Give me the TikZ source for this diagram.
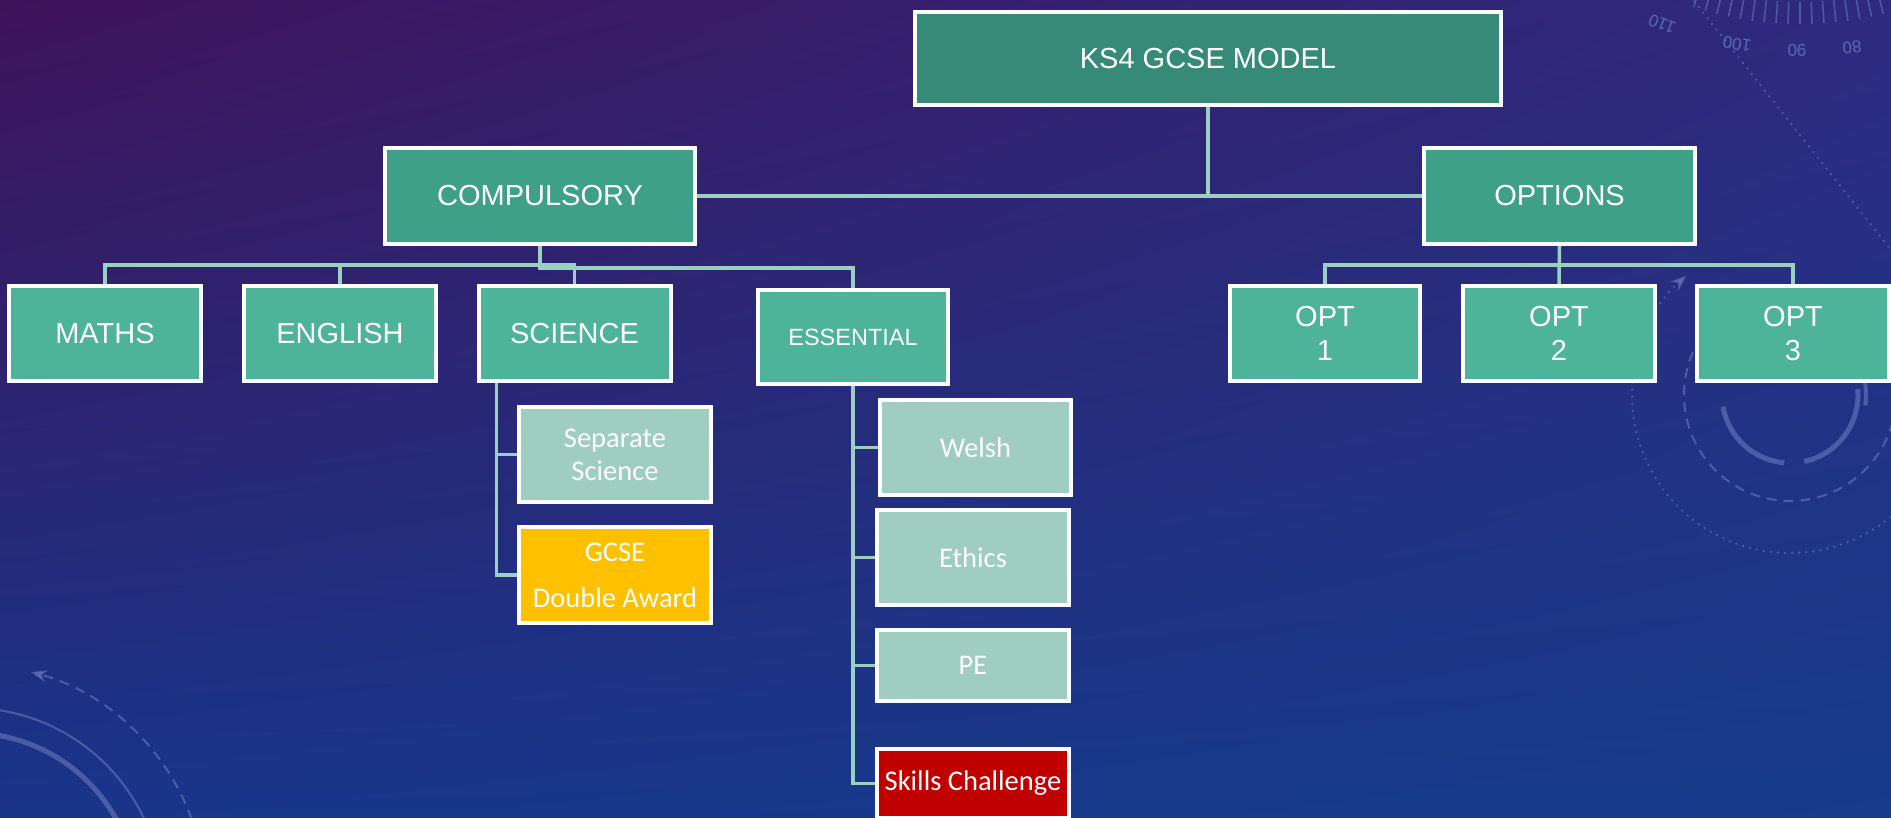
\documentclass[tikz,border=0pt]{standalone}
\usepackage{fontspec}
\setmainfont{Liberation Sans}
\newfontfamily\calibri{Carlito}
\usepackage{xcolor}
\usetikzlibrary{arrows.meta}
\usetikzlibrary{shadings}
\definecolor{modelteal}{HTML}{368B78}
\definecolor{groupteal}{HTML}{3FA088}
\definecolor{subjteal}{HTML}{4DB399}
\definecolor{paleteal}{HTML}{9FCDBF}
\definecolor{linkteal}{HTML}{9BD0C1}
\definecolor{gold}{HTML}{FFC000}
\definecolor{darkred}{HTML}{C00000}
\definecolor{bgtl}{HTML}{3F135A}
\definecolor{bgtr}{HTML}{2E2A80}
\definecolor{bgbl}{HTML}{18358A}
\definecolor{bgbr}{HTML}{163C8A}
\definecolor{decoblue}{HTML}{6A78C0}
\tikzset{ box/.style = {rectangle, draw=white, line width=4pt, text=white, align=center, inner sep=0pt} }
\tikzset{ arial/.style = {font=\fontsize{29}{34}\selectfont} }
\tikzset{ cal/.style = {font=\calibri\fontsize{28.5}{33}\selectfont} }
\tikzset{ link/.style = {draw=linkteal, line width=3.5pt} }
\tikzset{ deco/.style = {draw=decoblue, opacity=0.6} }
\tikzset{ dial/.style = {text=decoblue, opacity=0.8, inner sep=0pt, font=\fontsize{17}{17}\selectfont} }
\pgfdeclarelayer{back}
\pgfdeclarelayer{wires}
\pgfsetlayers{back,wires,main}

\begin{document}
\begin{tikzpicture}[x=1pt,y=-1pt]
    \useasboundingbox (0,0) rectangle (1891,818);
    \begin{pgfonlayer}{back}
        \shade[upper left=bgtl, upper right=bgtr, lower left=bgbl, lower right=bgbr] (0,0) rectangle (1891,818);
        \clip (0,0) rectangle (1891,818);
        \draw[deco, line width=5pt] (-30,900) circle (167pt);
        \draw[deco, line width=2pt] (-30,900) circle (192pt);
        \draw[deco, line width=2pt, dash pattern=on 10pt off 7pt, -{Stealth[length=16pt,width=12pt]}] ([shift={(20:236pt)}]-30,900) arc[start angle=20, end angle=75, radius=236pt];
        \draw[deco, line width=5pt] ([shift={(190:68pt)}]1790,395) arc[start angle=190, end angle=265, radius=68pt];
        \draw[deco, line width=5pt] ([shift={(282:68pt)}]1790,395) arc[start angle=282, end angle=365, radius=68pt];
        \draw[deco, line width=4pt] ([shift={(-8:76pt)}]1790,395) arc[start angle=-8, end angle=10, radius=76pt];
        \draw[deco, line width=2pt, dash pattern=on 10pt off 7pt] (1790,395) circle (106pt);
        \draw[deco, line width=2.5pt, line cap=round, dash pattern=on 0.1pt off 7pt, -{Stealth[length=16pt,width=12pt]}] ([shift={(-30:158pt)}]1790,395) arc[start angle=-30, end angle=-229, radius=158pt];
        \draw[deco, line width=2.5pt, line cap=round, dash pattern=on 0.1pt off 7pt] (1690,-4) -- (1891,250);
        \foreach \a in {-108,-106,...,-76}
            \draw[deco, line width=1.5pt] ([shift={(\a:322pt)}]1800,-320) -- ([shift={(\a:344pt)}]1800,-320);
        \node[dial, rotate=158] (d110) at (1662,24) {110};
        \node[dial, rotate=170] (d100) at (1737,44) {100};
        \node[dial, rotate=180] (d90) at (1797,50) {90};
        \node[dial, rotate=186] (d80) at (1852,47) {80};
    \end{pgfonlayer}
    \clip (0,0) rectangle (1891,818);

    \node [style=box, arial, fill=modelteal, minimum width=586pt, minimum height=93pt] (K) at (1208,58.5) {KS4 GCSE MODEL};
    \node [style=box, arial, fill=groupteal, minimum width=310pt, minimum height=96pt] (C) at (540,196) {COMPULSORY};
    \node [style=box, arial, fill=groupteal, minimum width=271pt, minimum height=96pt] (O) at (1559.5,196) {OPTIONS};

    \node [style=box, arial, fill=subjteal, minimum width=192pt, minimum height=95pt] (M) at (105,333.5) {MATHS};
    \node [style=box, arial, fill=subjteal, minimum width=192pt, minimum height=95pt] (En) at (340,333.5) {ENGLISH};
    \node [style=box, arial, fill=subjteal, minimum width=192pt, minimum height=95pt] (S) at (574.5,333.5) {SCIENCE};
    \node [style=box, font=\fontsize{23.5}{28}\selectfont, fill=subjteal, minimum width=190pt, minimum height=94pt] (Es) at (853,337) {ESSENTIAL};
    \node [style=box, arial, fill=subjteal, minimum width=190pt, minimum height=95pt] (O1) at (1325,333.5) {OPT\\1};
    \node [style=box, arial, fill=subjteal, minimum width=192pt, minimum height=95pt] (O2) at (1559,333.5) {OPT\\2};
    \node [style=box, arial, fill=subjteal, minimum width=192pt, minimum height=95pt] (O3) at (1793,333.5) {OPT\\3};

    \node [style=box, cal, fill=paleteal, minimum width=192pt, minimum height=95pt] (Sep) at (615,454.5) {Separate\\Science};
    \node [style=box, cal, fill=gold, minimum width=192pt, minimum height=96pt] (G) at (615,575) {GCSE\\[13pt]Double Award};
    \node [style=box, cal, fill=paleteal, minimum width=191pt, minimum height=95pt] (W) at (975.5,447.5) {Welsh};
    \node [style=box, cal, fill=paleteal, minimum width=192pt, minimum height=95pt] (Et) at (973,557.5) {Ethics};
    \node [style=box, cal, fill=paleteal, minimum width=192pt, minimum height=71pt] (P) at (973,665.5) {PE};
    \node [style=box, cal, fill=darkred, minimum width=192pt, minimum height=69pt] (Sk) at (973,783.5) {Skills Challenge};

    \begin{pgfonlayer}{wires}
        \draw[link] (K) -- (K |- C);
        \draw[link] (C) -- (O);
        \draw[link] (C.south) -- ++(0,19) -| (M.north);
        \draw[link] (C.south) -- ++(0,19) -| (En.north);
        \draw[link] (C.south) -- ++(0,19) -| (S.north);
        \draw[link] (C.south) -- ++(0,22) -| (Es.north);
        \draw[link] (O.south) -- ++(0,19) -| (O1.north);
        \draw[link] (O.south) -- (O2.north);
        \draw[link] (O.south) -- ++(0,19) -| (O3.north);
        \draw[link] ([xshift=20pt]S.south west) |- (Sep.west);
        \draw[link] ([xshift=20pt]S.south west) |- (G.west);
        \draw[link] (Es.south) |- (W.west);
        \draw[link] (Es.south) |- (Et.west);
        \draw[link] (Es.south) |- (P.west);
        \draw[link] (Es.south) |- (Sk.west);
    \end{pgfonlayer}
\end{tikzpicture}
\end{document}
